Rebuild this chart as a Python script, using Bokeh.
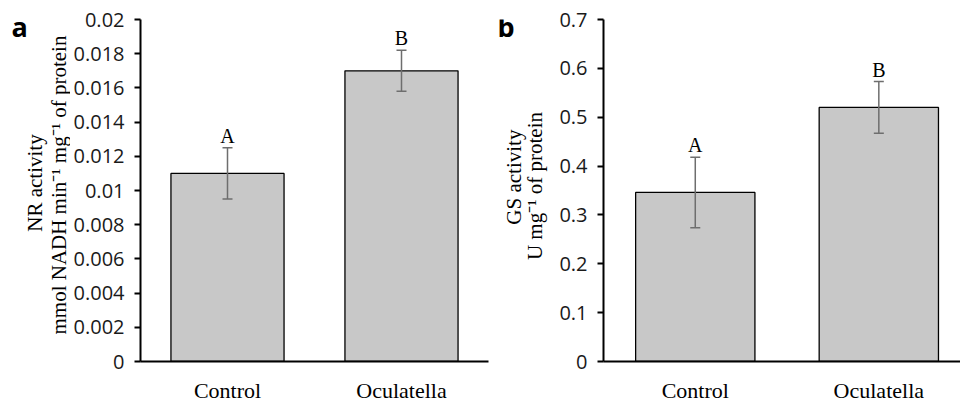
import math
from bokeh.plotting import figure
from bokeh.layouts import row
from bokeh.models import ColumnDataSource, Range1d, FixedTicker, Whisker, TeeHead
from bokeh.core.properties import value
from bokeh.embed import file_html
from bokeh.resources import INLINE

categories = ["Control", "Oculatella"]
nr_values = [0.011, 0.017]
nr_errors = [0.0015, 0.0012]
nr_letters = ["A", "B"]
gs_values = [0.346, 0.520]
gs_errors = [0.072, 0.053]
gs_letters = ["A", "B"]
nr_ticks = [0, 0.002, 0.004, 0.006, 0.008, 0.01, 0.012, 0.014, 0.016, 0.018, 0.02]
nr_tick_labels = ["0", "0.002", "0.004", "0.006", "0.008", "0.01", "0.012", "0.014", "0.016", "0.018", "0.02"]
gs_ticks = [0, 0.1, 0.2, 0.3, 0.4, 0.5, 0.6, 0.7]
gs_tick_labels = ["0", "0.1", "0.2", "0.3", "0.4", "0.5", "0.6", "0.7"]
nr_title = ["NR activity", "mmol NADH min\u207b\u00b9 mg\u207b\u00b9 of protein"]
gs_title = ["GS activity", "U mg\u207b\u00b9 of protein"]

SERIF = "Liberation Serif"
SANS = "Open Sans"
H = 405
TOP = 19      # frame top (px from top)
BOTTOM = 364  # frame bottom (px from top)


def label_panel(width, letter, letter_pos, lines, line_pos):
    """A narrow figure (no axes) holding the panel letter and the rotated y-axis title.
    Its frame is aligned with the neighbouring plot frame, so its y range spans the
    same pixels (measured from the top of the page)."""
    f = figure(width=width, height=H, x_range=Range1d(0, width),
               y_range=Range1d(H - BOTTOM, H - TOP),
               output_backend="svg", toolbar_location=None,
               min_border_left=0, min_border_right=0,
               min_border_top=TOP, min_border_bottom=H - BOTTOM)
    f.axis.visible = False
    f.grid.visible = False
    f.outline_line_color = None
    f.text(x=[letter_pos[0]], y=[H - letter_pos[1]], text=[letter],
           text_font=value(SANS), text_font_style="bold", text_font_size="27px",
           text_align="left", text_baseline="middle", text_color="black")
    f.text(x=[p[0] for p in line_pos], y=[H - p[1] for p in line_pos], text=lines,
           angle=math.pi / 2, text_font=value(SERIF), text_font_size="21px",
           text_align="center", text_baseline="middle", text_color="black")
    return f


def make_panel(vals, errs, letters, ticks, tick_labels, ymax, xend, width, border_left, border_right):
    xs = [i + 0.5 for i in range(len(categories))]
    src = ColumnDataSource(dict(
        x=xs, top=vals,
        upper=[v + e for v, e in zip(vals, errs)],
        lower=[v - e for v, e in zip(vals, errs)],
        letter=letters,
    ))
    p = figure(width=width, height=H, x_range=Range1d(0, xend), y_range=Range1d(0, ymax),
               output_backend="svg", toolbar_location=None,
               min_border_left=border_left, min_border_right=border_right,
               min_border_top=TOP, min_border_bottom=H - BOTTOM)
    p.outline_line_color = None
    p.grid.visible = False

    p.vbar(x="x", top="top", width=0.65, bottom=0, source=src,
           fill_color="#c8c8c8", line_color="black", line_width=1.3)
    ecol = "#6e6e6e"
    w = Whisker(base="x", upper="upper", lower="lower", source=src, level="overlay",
                line_color=ecol, line_width=1.5,
                upper_head=TeeHead(size=10, line_color=ecol, line_width=1.5),
                lower_head=TeeHead(size=10, line_color=ecol, line_width=1.5))
    p.add_layout(w)
    p.text(x="x", y="upper", text="letter", source=src, text_align="center",
           text_baseline="bottom", y_offset=-1, text_font=value(SERIF),
           text_font_size="20px", text_color="black")

    p.xaxis.ticker = FixedTicker(ticks=xs)
    p.xaxis.major_label_overrides = {x: c for x, c in zip(xs, categories)}
    p.xaxis.major_tick_line_color = None
    p.xaxis.minor_tick_line_color = None
    p.xaxis.axis_line_width = 2
    p.xaxis.axis_line_color = "black"
    p.xaxis.major_label_text_font = SERIF
    p.xaxis.major_label_text_font_size = "22px"
    p.xaxis.major_label_text_color = "black"
    p.xaxis.major_label_standoff = 10

    p.yaxis.ticker = FixedTicker(ticks=ticks)
    p.yaxis.major_label_overrides = {t: l for t, l in zip(ticks, tick_labels)}
    p.yaxis.minor_tick_line_color = None
    p.yaxis.major_tick_in = 0
    p.yaxis.major_tick_out = 6
    p.yaxis.major_tick_line_width = 2
    p.yaxis.axis_line_width = 2
    p.yaxis.axis_line_color = "black"
    p.yaxis.major_tick_line_color = "black"
    p.yaxis.major_label_text_font = SANS
    p.yaxis.major_label_text_font_size = "20px"
    p.yaxis.major_label_text_color = "#1a1a1a"
    p.yaxis.major_label_standoff = 10
    return p


la = label_panel(70, "a", (11, 26), nr_title, [(34, 184), (58, 186)])
p1 = make_panel(nr_values, nr_errors, nr_letters, nr_ticks, nr_tick_labels, 0.02, 2.0,
                420, 66, 2)
lb = label_panel(62, "b", (7, 26), gs_title, [(23, 178), (44, 187)])
p2 = make_panel(gs_values, gs_errors, gs_letters, gs_ticks, gs_tick_labels, 0.7, 1.945,
                408, 51, 0)

layout = row(la, p1, lb, p2)
open("out.html", "w").write(file_html(layout, INLINE))
